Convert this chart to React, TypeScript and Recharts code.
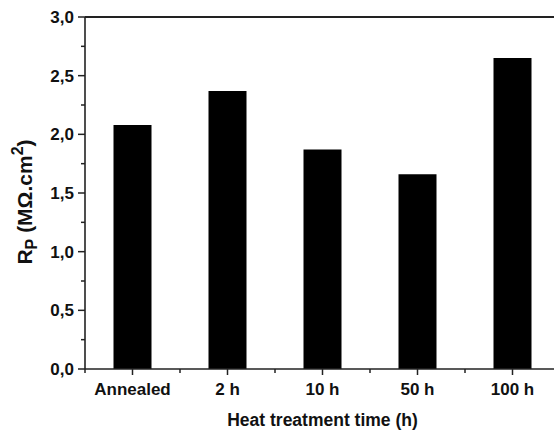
import React from "react";
import { BarChart, Bar, XAxis, YAxis, ReferenceLine } from "recharts";

const categories = ["Annealed", "2 h", "10 h", "50 h", "100 h"];
const rpValues = [2.08, 2.37, 1.87, 1.66, 2.65];
const yTicks = [0, 0.25, 0.5, 0.75, 1, 1.25, 1.5, 1.75, 2, 2.25, 2.5, 2.75, 3];

const data = categories.map((name, i) => ({ name, rp: rpValues[i] }));

const CHART_W = 580;
const CHART_H = 432;
const Y_AXIS_W = 85;
const MARGIN = { top: 17, right: 20, left: 0, bottom: 0 };
const BAND = (CHART_W - MARGIN.left - MARGIN.right - Y_AXIS_W) / categories.length;

const FONT = "'Liberation Sans', Arial, sans-serif";
const AXIS = "#222";

const YTick = (props: any) => {
  const { x, y, payload } = props;
  const major = Math.round(payload.value * 100) % 50 === 0;
  return (
    <g>
      <line x1={x - (major ? 7 : 4)} x2={x} y1={y} y2={y} stroke={AXIS} strokeWidth={1.5} />
      {major && (
        <text x={x - 11} y={y} dy="0.36em" textAnchor="end" fontFamily={FONT} fontWeight="bold" fontSize={17} fill="#111">
          {payload.value.toFixed(1).replace(".", ",")}
        </text>
      )}
    </g>
  );
};

const XTick = (props: any) => {
  const { x, y, payload, index } = props;
  return (
    <g>
      <line x1={x} x2={x} y1={y} y2={y + 6} stroke={AXIS} strokeWidth={1.5} />
      <line x1={x - BAND / 2} x2={x - BAND / 2} y1={y} y2={y + 4} stroke={AXIS} strokeWidth={1.5} />
      {index === categories.length - 1 && (
        <line x1={x + BAND / 2} x2={x + BAND / 2} y1={y} y2={y + 4} stroke={AXIS} strokeWidth={1.5} />
      )}
      <text x={x} y={y + 26} textAnchor="middle" fontFamily={FONT} fontWeight="bold" fontSize={17} fill="#111">
        {payload.value}
      </text>
    </g>
  );
};

const YLabel = () => (
  <text
    x={32}
    y={202}
    transform="rotate(-90, 32, 202)"
    textAnchor="middle"
    fontFamily={FONT}
    fontWeight="bold"
    fontSize={21}
    fill="#111"
  >
    R
    <tspan dy={5} fontSize={16}>P</tspan>
    <tspan dy={-5}> (MΩ.cm</tspan>
    <tspan dy={-9} fontSize={16}>2</tspan>
    <tspan dy={9}>)</tspan>
  </text>
);

const XLabel = () => (
  <text x={Y_AXIS_W + (BAND * categories.length) / 2} y={426} textAnchor="middle" fontFamily={FONT} fontWeight="bold" fontSize={17.5} fill="#111">
    Heat treatment time (h)
  </text>
);

export default function App() {
  return (
    <div style={{ position: "absolute", left: 0, top: 0, width: 554, height: 432, overflow: "hidden", background: "#fff" }}>
      <BarChart width={CHART_W} height={CHART_H} data={data} margin={MARGIN} barCategoryGap="30%">
        <XAxis
          dataKey="name"
          height={63}
          interval={0}
          tickSize={0}
          tickMargin={0}
          tickLine={false}
          axisLine={{ stroke: AXIS, strokeWidth: 1.6 }}
          tick={<XTick />}
          label={{ content: () => <XLabel /> }}
        />
        <YAxis
          width={Y_AXIS_W}
          domain={[0, 3]}
          ticks={yTicks}
          interval={0}
          tickSize={0}
          tickMargin={0}
          tickLine={false}
          axisLine={{ stroke: AXIS, strokeWidth: 1.6 }}
          tick={<YTick />}
          label={{ content: () => <YLabel /> }}
        />
        <ReferenceLine y={3} stroke={AXIS} strokeWidth={2} />
        <Bar dataKey="rp" fill="#000" isAnimationActive={false} />
      </BarChart>
    </div>
  );
}
